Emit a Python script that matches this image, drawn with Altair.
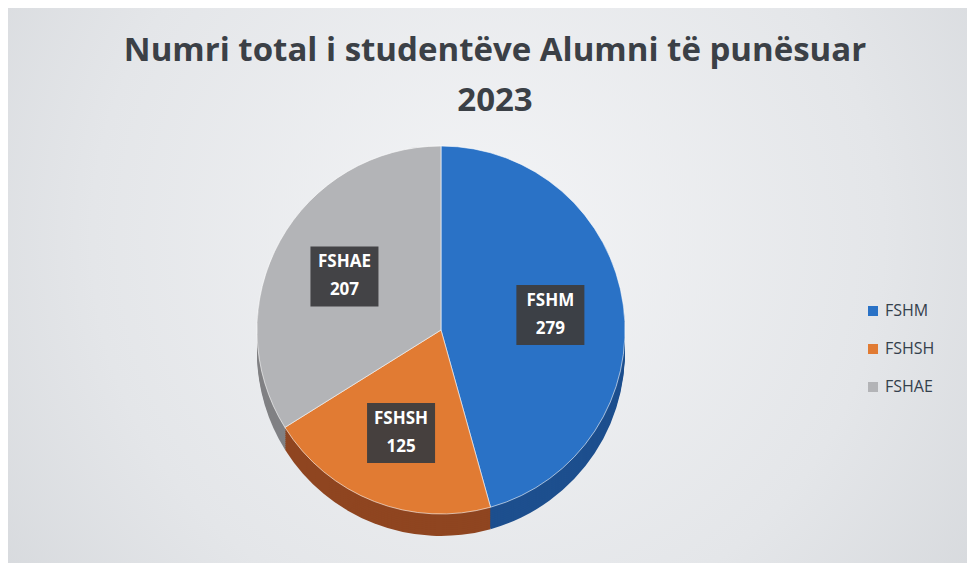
import altair as alt
import pandas as pd

categories = ["FSHM", "FSHSH", "FSHAE"]
values = [279, 125, 207]
order_idx = [0, 1, 2]
title_lines = ["Numri total i studentëve Alumni të punësuar", "2023"]

top_colors = ["#2a72c6", "#e17b33", "#b3b4b7"]
side_colors = ["#1d4f8e", "#8f4520", "#808184"]

W, H = 959, 555
CX, CY, R = 433, 322, 184
DEPTH = 22
LABEL_R = 0.6 * R

df = pd.DataFrame({"cat": categories, "val": values, "idx": order_idx})
tdf = pd.DataFrame({"line": title_lines, "row": [0, 1]})

base = alt.Chart(df)
theta = alt.Theta("val:Q", stack=True)
order = alt.Order("idx:Q")

bg = alt.Chart(df).mark_rect(
    color=alt.RadialGradient(
        gradient="radial", x1=0.5, y1=0.45, x2=0.5, y2=0.45, r1=0, r2=0.75,
        stops=[alt.GradientStop(color="#f3f4f6", offset=0),
               alt.GradientStop(color="#e4e6e9", offset=0.55),
               alt.GradientStop(color="#cfd2d6", offset=1)]
    )
).encode(x=alt.value(0), x2=alt.value(W), y=alt.value(0), y2=alt.value(H))

side_layers = []
for d in range(DEPTH, 0, -2):
    side_layers.append(
        base.mark_arc(outerRadius=R, stroke=None).encode(
            theta=theta, order=order,
            color=alt.Color("cat:N", scale=alt.Scale(domain=categories, range=side_colors), legend=None),
            x=alt.value(CX), y=alt.value(CY + d),
        )
    )

top = base.mark_arc(outerRadius=R, stroke="#ffffff", strokeWidth=0.6).encode(
    theta=theta, order=order,
    color=alt.Color(
        "cat:N",
        scale=alt.Scale(domain=categories, range=top_colors),
        legend=alt.Legend(
            title=None, orient="none", legendX=857, legendY=295,
            symbolType="square", symbolSize=100, symbolStrokeWidth=0,
            labelFontSize=16, labelFont="Open Sans", labelColor="#34404c",
            rowPadding=22, labelOffset=4,
        ),
    ),
    x=alt.value(CX), y=alt.value(CY),
)

lab = base.transform_joinaggregate(total="sum(val)").transform_window(
    cum="sum(val)", sort=[alt.SortField("idx")]
).transform_calculate(
    mid="2*PI*(datum.cum - datum.val/2)/datum.total",
).transform_calculate(
    lx=f"{CX} + {LABEL_R}*sin(datum.mid)",
    ly=f"{CY} - {LABEL_R}*cos(datum.mid)",
    txt="datum.cat + '\\n' + datum.val",
)

boxes = lab.transform_calculate(
    x1="datum.lx - 34", x2="datum.lx + 34", y1="datum.ly - 30", y2="datum.ly + 30"
).mark_rect(color="#3d3d3f", opacity=0.95).encode(
    x=alt.X("x1:Q", scale=None), x2="x2:Q",
    y=alt.Y("y1:Q", scale=None), y2="y2:Q",
)

texts = lab.mark_text(
    color="white", font="Open Sans", fontWeight="bold", fontSize=17,
    lineBreak="\n", lineHeight=28, baseline="middle", align="center", dy=-14,
).encode(
    x=alt.X("lx:Q", scale=None), y=alt.Y("ly:Q", scale=None), text="txt:N",
)

title = alt.Chart(tdf).transform_calculate(
    ty="43 + datum.row*50"
).mark_text(
    font="Open Sans", fontWeight="bold", fontSize=33, color="#3b4046",
    align="center", baseline="middle",
).encode(
    x=alt.value(487), y=alt.Y("ty:Q", scale=None), text="line:N",
)

chart = alt.layer(bg, *side_layers, top, boxes, texts, title).resolve_scale(
    color="independent"
).properties(
    width=W, height=H, padding=0,
    autosize=alt.AutoSizeParams(type="fit", contains="padding"),
).configure_view(stroke=None).configure(background="#e4e6e9")

chart.save("out.html", embed_options={"renderer": "svg", "actions": False})
